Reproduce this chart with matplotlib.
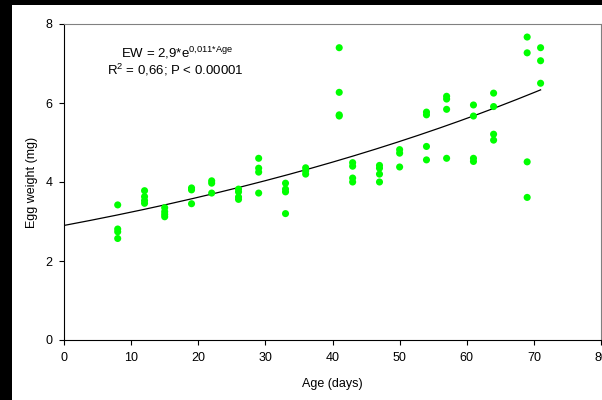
import numpy as np
import matplotlib.pyplot as plt
from matplotlib.patches import Rectangle

plt.rcParams['font.family'] = ['Liberation Sans', 'DejaVu Sans']
plt.rcParams['mathtext.fontset'] = 'custom'
plt.rcParams['mathtext.rm'] = 'Liberation Sans'
plt.rcParams['mathtext.it'] = 'Liberation Sans:italic'

# egg weights (mg) per female age (days)
ages = [8, 12, 15, 19, 22, 26, 29, 33, 36, 41, 43, 47, 50, 54, 57, 61, 64, 69, 71]
weights = [
    [3.42, 2.81, 2.74, 2.57],
    [3.78, 3.63, 3.53, 3.46],
    [3.35, 3.25, 3.18, 3.12],
    [3.85, 3.80, 3.45],
    [4.03, 3.97, 3.72],
    [3.82, 3.75, 3.62, 3.56],
    [4.60, 4.35, 4.25, 3.72],
    [3.97, 3.82, 3.75, 3.20],
    [4.36, 4.28, 4.20],
    [7.40, 6.27, 5.70, 5.67],
    [4.49, 4.40, 4.10, 4.00],
    [4.42, 4.35, 4.20, 4.00],
    [4.82, 4.73, 4.38],
    [5.77, 5.70, 4.90, 4.56],
    [6.17, 6.10, 5.84, 4.60],
    [5.95, 5.67, 4.60, 4.52],
    [6.25, 5.91, 5.21, 5.06],
    [7.67, 7.27, 4.51, 3.61],
    [7.40, 7.07, 6.50],
]

# exponential fit EW = a * exp(b * Age)
fit_a = 2.9
fit_b = 0.011

x_pts = np.concatenate([[a] * len(w) for a, w in zip(ages, weights)])
y_pts = np.concatenate(weights)

fig = plt.figure(figsize=(6.02, 4.0), dpi=100)
fig.patch.set_facecolor('white')
# dark frame strips on the left and top edges
fig.patches.append(Rectangle((0, 0), 12 / 602, 1, transform=fig.transFigure,
                             facecolor='black', edgecolor='none', zorder=-1))
fig.patches.append(Rectangle((0, 1 - 5 / 400), 1, 5 / 400, transform=fig.transFigure,
                             facecolor='black', edgecolor='none', zorder=-1))

ax = fig.add_axes([64 / 602, 60 / 400, 537 / 602, 316 / 400])

ax.scatter(x_pts, y_pts, s=26, color='#00ff00', edgecolors='none', zorder=3)

xx = np.linspace(0, max(ages), 200)
ax.plot(xx, fit_a * np.exp(fit_b * xx), color='black', lw=0.9, zorder=2)

ax.set_xlim(0, 80)
ax.set_ylim(0, 8)
ax.set_xticks(np.arange(0, 81, 10))
ax.set_yticks(np.arange(0, 9, 2))
ax.tick_params(direction='out', length=3.5, width=0.8, labelsize=9, pad=5)

for side in ['top', 'right']:
    ax.spines[side].set_color('#808080')
    ax.spines[side].set_linewidth(0.8)
for side in ['left', 'bottom']:
    ax.spines[side].set_color('black')
    ax.spines[side].set_linewidth(0.8)

ax.set_xlabel('Age (days)', fontsize=9, labelpad=10)
ax.set_ylabel('Egg weight (mg)', fontsize=9, labelpad=5)

ax.text(16.8, 7.27, r'EW = 2,9*e$^{\mathregular{0{,}011{*}Age}}$',
        ha='center', va='center', fontsize=9.5)
ax.text(16.6, 6.84, r'R$^{\mathregular{2}}$ = 0,66; P < 0.00001',
        ha='center', va='center', fontsize=9.5)

fig.savefig('out.png', dpi=100)
